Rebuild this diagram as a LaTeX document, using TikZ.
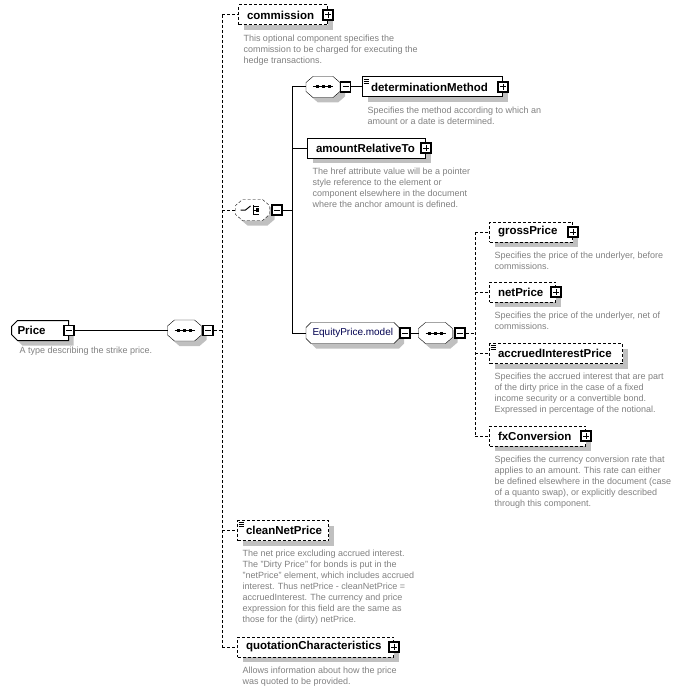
\documentclass[tikz,border=0pt]{standalone}
\usepackage{fontspec}
\setmainfont{Liberation Sans}
\usetikzlibrary{shapes.misc,shadows,backgrounds}

\definecolor{descgray}{RGB}{128,128,128}
\definecolor{shadowgray}{RGB}{192,192,192}
\definecolor{groupblue}{RGB}{0,0,80}

\newcommand{\namefont}{\fontsize{11.5}{13}\selectfont\bfseries}
\newcommand{\descfont}{\fontsize{9}{11}\selectfont}

% octagon round a node: name, corner width, corner height
\newcommand{\octpath}[3]{([xshift=#2]#1.north west) -- ([xshift=-#2]#1.north east)
  -- ([yshift=-#3]#1.north east) -- ([yshift=#3]#1.south east)
  -- ([xshift=-#2]#1.south east) -- ([xshift=#2]#1.south west)
  -- ([yshift=#3]#1.south west) -- ([yshift=-#3]#1.north west) -- cycle}

% small icons drawn on top of a node
\newcommand{\seqicon}[1]{%
  \begin{scope}[shift={(#1.center)}]
    \draw[line width=1pt] (-10,0) -- (10,0);
    \foreach \dx in {-6,0,6} {\fill (\dx-1.5,-1.5) rectangle (\dx+1.5,1.5);}
  \end{scope}}
\newcommand{\choiceicon}[1]{%
  \begin{scope}[shift={(#1.center)}, line width=1pt]
    \draw (-12,0) -- (-7,0) -- (-2,-4);
    \draw (1,-5) -- (1,5);
    \foreach \dy in {-4,0,4} {\draw (1,\dy) -- (6,\dy);}
    \fill (3,-2) rectangle (6,2);
  \end{scope}}
\newcommand{\simpleicon}[1]{%
  \foreach \dy in {2.5,4.5,6.5} {\draw[line width=0.8pt] ([shift={(1.5,\dy)}]#1.north west) -- ++(5,0);}}

\begin{document}
\begin{tikzpicture}[x=1pt, y=-1pt, line width=1pt,
    boxshadow/.style={drop shadow={shadow xshift=5pt, shadow yshift=-5pt, fill=shadowgray, opacity=1}},
    elem/.style={rectangle, draw, fill=white, anchor=west, minimum height=20pt,
      inner xsep=8.5pt, inner ysep=0pt, align=left, font=\namefont, boxshadow},
    optelem/.style={elem, dash pattern=on 3pt off 2pt},
    compositor/.style={rectangle, minimum width=33pt, minimum height=20pt, inner sep=0pt},
    octline/.style={draw, fill=white, boxshadow},
    groupbox/.style={rectangle, anchor=west, minimum height=20pt, inner xsep=6pt,
      inner ysep=0pt, align=left, font=\fontsize{10}{12}\selectfont, text=groupblue},
    pmbox/.style={rectangle, draw, line width=1.2pt, fill=white, minimum size=10pt, inner sep=0pt},
    plus/.style={pmbox, path picture={
      \draw[line width=1pt] ([xshift=2pt]path picture bounding box.west) -- ([xshift=-2pt]path picture bounding box.east);
      \draw[line width=1pt] ([yshift=-2pt]path picture bounding box.north) -- ([yshift=2pt]path picture bounding box.south);}},
    minus/.style={pmbox, path picture={
      \draw[line width=1pt] ([xshift=2pt]path picture bounding box.west) -- ([xshift=-2pt]path picture bounding box.east);}},
    desc/.style={anchor=north west, inner sep=0pt, align=left, font=\descfont, text=descgray},
    optline/.style={dash pattern=on 3pt off 2pt},
  ]
  \useasboundingbox (0,0) rectangle (685,690);

  %Nodes
  \node[chamfered rectangle, chamfered rectangle corners={north west,south west},
    chamfered rectangle xsep=3pt, chamfered rectangle ysep=3pt, draw, fill=white,
    anchor=west, minimum height=20pt, inner xsep=3pt, inner ysep=0pt, text width=45pt,
    align=left, font=\namefont, boxshadow]
    (price) at (11,330.5) {Price};
  \node[minus] (pricepm) at (price.east) {};
  \node[desc] (pricedesc) at ([shift={(5,8.5)}]price.south west) {A type describing the strike price.};

  \node[compositor] (seqA) at (184.5,330.5) {};
  \node[minus] (seqApm) at (208,330.5) {};

  \coordinate (spineA) at (222,330.5);

  \node[optelem, text width=72pt] (commission) at (238,15) {commission};
  \node[plus] (commissionpm) at (commission.east) {};
  \node[desc] (commissiondesc) at ([shift={(5,8.5)}]commission.south west)
    {This optional component specifies the\\commission to be charged for executing the\\hedge transactions.};

  \node[compositor] (choiceA) at (252.5,210) {};
  \node[minus] (choiceApm) at (277,210) {};

  \coordinate (spineB) at (292,210);

  \node[compositor] (seqB) at (323,87) {};
  \node[minus] (seqBpm) at (345.5,87) {};

  \node[elem, text width=123pt] (determinationMethod) at (362,87) {determinationMethod};
  \simpleicon{determinationMethod}
  \node[plus] (determinationMethodpm) at (determinationMethod.east) {};
  \node[desc] (determinationMethoddesc) at ([shift={(5,8.5)}]determinationMethod.south west)
    {Specifies the method according to which an\\amount or a date is determined.};

  \node[elem, text width=101pt] (amountRelativeTo) at (307,148) {amountRelativeTo};
  \node[plus] (amountRelativeTopm) at (amountRelativeTo.east) {};
  \node[desc] (amountRelativeTodesc) at ([shift={(5,8.5)}]amountRelativeTo.south west)
    {The href attribute value will be a pointer\\style reference to the element or\\component elsewhere in the document\\where the anchor amount is defined.};

  \node[groupbox, text width=80pt] (equityModel) at (306,333) {EquityPrice.model};
  \node[minus] (equityModelpm) at (405,333) {};

  \node[compositor] (seqC) at (435.5,333) {};
  \node[minus] (seqCpm) at (460,333) {};

  \coordinate (spineC) at (475,333);

  \node[optelem, text width=66pt] (grossPrice) at (489,232) {grossPrice};
  \node[plus] (grossPricepm) at (grossPrice.east) {};
  \node[desc] (grossPricedesc) at ([shift={(5,8.5)}]grossPrice.south west)
    {Specifies the price of the underlyer, before\\commissions.};

  \node[optelem, text width=49pt] (netPrice) at (489,292) {netPrice};
  \node[plus] (netPricepm) at (netPrice.east) {};
  \node[desc] (netPricedesc) at ([shift={(5,8.5)}]netPrice.south west)
    {Specifies the price of the underlyer, net of\\commissions.};

  \node[optelem, text width=116pt] (accruedInterestPrice) at (489,353.5) {accruedInterestPrice};
  \simpleicon{accruedInterestPrice}
  \node[desc] (accruedInterestPricedesc) at ([shift={(5,8.5)}]accruedInterestPrice.south west)
    {Specifies the accrued interest that are part\\of the dirty price in the case of a fixed\\income security or a convertible bond.\\Expressed in percentage of the notional.};

  \node[optelem, text width=79pt] (fxConversion) at (489,436) {fxConversion};
  \node[plus] (fxConversionpm) at (fxConversion.east) {};
  \node[desc] (fxConversiondesc) at ([shift={(5,8.5)}]fxConversion.south west)
    {Specifies the currency conversion rate that\\applies to an amount. This rate can either\\be defined elsewhere in the document (case\\of a quanto swap), or explicitly described\\through this component.};

  \node[optelem, text width=74pt] (cleanNetPrice) at (237,530.5) {cleanNetPrice};
  \simpleicon{cleanNetPrice}
  \node[desc] (cleanNetPricedesc) at ([shift={(5,8.5)}]cleanNetPrice.south west)
    {The net price excluding accrued interest.\\The "Dirty Price" for bonds is put in the\\"netPrice" element, which includes accrued\\interest. Thus netPrice - cleanNetPrice =\\accruedInterest. The currency and price\\expression for this field are the same as\\those for the (dirty) netPrice.};

  \node[optelem, text width=139pt] (quotationCharacteristics) at (237,647) {quotationCharacteristics};
  \node[plus] (quotationCharacteristicspm) at (quotationCharacteristics.east) {};
  \node[desc] (quotationCharacteristicsdesc) at ([shift={(5,8.5)}]quotationCharacteristics.south west)
    {Allows information about how the price\\was quoted to be provided.};

  %Compositor and group outlines
  \begin{scope}[on background layer]
    \path[octline] \octpath{seqA}{7pt}{6pt};
    \path[octline, dash pattern=on 3pt off 2pt] \octpath{choiceA}{7pt}{6pt};
    \path[octline] \octpath{seqB}{7pt}{6pt};
    \path[octline] \octpath{seqC}{7pt}{6pt};
    \path[octline] \octpath{equityModel}{5pt}{5pt};
  \end{scope}
  \seqicon{seqA}
  \choiceicon{choiceA}
  \seqicon{seqB}
  \seqicon{seqC}

  %Lines
  \draw (pricepm.east) -- (seqA.west);
  \draw[optline] (seqApm.east) -- (spineA);
  \draw[optline] (spineA |- commission.west) -- (spineA |- quotationCharacteristics.west);
  \draw[optline] (spineA |- commission.west) -- (commission.west);
  \draw[optline] (spineA |- choiceA.west) -- (choiceA.west);
  \draw[optline] (spineA |- cleanNetPrice.west) -- (cleanNetPrice.west);
  \draw[optline] (spineA |- quotationCharacteristics.west) -- (quotationCharacteristics.west);

  \draw (choiceApm.east) -- (spineB);
  \draw (spineB |- seqB.west) -- (spineB |- equityModel.west);
  \draw (spineB |- seqB.west) -- (seqB.west);
  \draw (seqBpm.east) -- (determinationMethod.west);
  \draw (spineB |- amountRelativeTo.west) -- (amountRelativeTo.west);
  \draw (spineB |- equityModel.west) -- (equityModel.west);

  \draw (equityModelpm.east) -- (seqC.west);
  \draw[optline] (seqCpm.east) -- (spineC);
  \draw[optline] (spineC |- grossPrice.west) -- (spineC |- fxConversion.west);
  \draw[optline] (spineC |- grossPrice.west) -- (grossPrice.west);
  \draw[optline] (spineC |- netPrice.west) -- (netPrice.west);
  \draw[optline] (spineC |- accruedInterestPrice.west) -- (accruedInterestPrice.west);
  \draw[optline] (spineC |- fxConversion.west) -- (fxConversion.west);
\end{tikzpicture}
\end{document}
